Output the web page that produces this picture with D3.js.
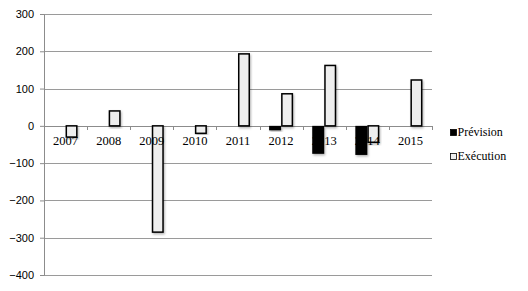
<!DOCTYPE html>
<html>
<head>
<meta charset="utf-8">
<script src="https://cdn.jsdelivr.net/npm/d3@7"></script>
<style>
  body { margin: 0; background: #fff; }
</style>
</head>
<body>
<div id="chart"></div>
<script>
// Data
const years = ["2007", "2008", "2009", "2010", "2011", "2012", "2013", "2014", "2015"];
const prevision = [0, 0, 0, 0, 0, -12, -75, -78, 0];
const execution = [-30, 40, -285, -20, 193, 86, 162, -44, 123];
const yTicks = [300, 200, 100, 0, -100, -200, -300, -400];
const seriesNames = ["Prévision", "Exécution"];

const W = 528, H = 291;
const margin = { top: 14, right: 96, bottom: 16, left: 44 };
const width = W - margin.left - margin.right,
      height = H - margin.top - margin.bottom;

const svg = d3.select("#chart").append("svg")
    .attr("width", W)
    .attr("height", H);

// soft shadow under bars
const defs = svg.append("defs");
const f = defs.append("filter").attr("id", "shadow")
    .attr("x", "-30%").attr("y", "-10%").attr("width", "160%").attr("height", "130%");
f.append("feDropShadow").attr("dx", 1).attr("dy", 1.5).attr("stdDeviation", 1)
    .attr("flood-color", "#000").attr("flood-opacity", 0.3);

const g = svg.append("g").attr("transform", `translate(${margin.left},${margin.top})`);

const x = d3.scaleBand().domain(years).range([0, width]);
const y = d3.scaleLinear().domain([-400, 300]).range([height, 0]);

// gridlines
g.selectAll(".grid")
    .data(yTicks)
    .enter().append("line")
    .attr("x1", 0).attr("x2", width)
    .attr("y1", d => Math.round(y(d)) + 0.5).attr("y2", d => Math.round(y(d)) + 0.5)
    .attr("stroke", d => d === 0 ? "#8c8c8c" : "#9a9a9a")
    .attr("stroke-width", 1);

// y axis
const yAxis = g.append("g")
    .call(d3.axisLeft(y).tickValues(yTicks).tickSize(4).tickPadding(6).tickFormat(d3.format("d")));
yAxis.select(".domain").attr("stroke", "#8c8c8c");
yAxis.selectAll(".tick line").attr("stroke", "#8c8c8c");
yAxis.selectAll("text")
    .style("font-family", "'Liberation Sans', Arial, sans-serif")
    .style("font-size", "11px")
    .attr("fill", "#000");

// category ticks on zero line
g.selectAll(".ctick")
    .data(years.slice(1).concat(["end"]))
    .enter().append("line")
    .attr("x1", (d, i) => Math.round(x.step() * (i + 1)) + 0.5)
    .attr("x2", (d, i) => Math.round(x.step() * (i + 1)) + 0.5)
    .attr("y1", Math.round(y(0))).attr("y2", Math.round(y(0)) + 4)
    .attr("stroke", "#8c8c8c");

const barW = 12;

// Prévision bars
g.selectAll(".prev")
    .data(years.map((d, i) => ({ year: d, v: prevision[i] })).filter(d => d.v !== 0))
    .enter().append("rect")
    .attr("x", d => x(d.year) + x.bandwidth() / 2 - barW)
    .attr("y", d => y(Math.max(0, d.v)))
    .attr("width", barW)
    .attr("height", d => Math.abs(y(d.v) - y(0)))
    .attr("fill", "#000")
    .attr("filter", "url(#shadow)");

// Exécution bars
g.selectAll(".exec")
    .data(years.map((d, i) => ({ year: d, v: execution[i] })))
    .enter().append("rect")
    .attr("x", d => x(d.year) + x.bandwidth() / 2 + 0.75)
    .attr("y", d => y(Math.max(0, d.v)))
    .attr("width", barW - 1.5)
    .attr("height", d => Math.abs(y(d.v) - y(0)))
    .attr("fill", "#eeeeee")
    .attr("stroke", "#000")
    .attr("stroke-width", 1.5)
    .attr("filter", "url(#shadow)");

// category labels sit on top of the bars
g.selectAll(".xlabel")
    .data(years)
    .enter().append("text")
    .attr("x", d => x(d) + x.bandwidth() / 2)
    .attr("y", y(0) + 19)
    .attr("text-anchor", "middle")
    .style("font-family", "'Liberation Serif', 'Times New Roman', serif")
    .style("font-size", "12.5px")
    .text(d => d);

// legend
const legend = svg.append("g").attr("transform", "translate(450,0)");
legend.selectAll("rect")
    .data(seriesNames)
    .enter().append("rect")
    .attr("x", 0.5)
    .attr("y", (d, i) => 129.5 + i * 24)
    .attr("width", 6).attr("height", 6)
    .attr("fill", (d, i) => i === 0 ? "#000" : "#eeeeee")
    .attr("stroke", "#000")
    .attr("stroke-width", 0.8);
legend.selectAll("text")
    .data(seriesNames)
    .enter().append("text")
    .attr("x", 7.5)
    .attr("y", (d, i) => 136 + i * 24)
    .style("font-family", "'Liberation Serif', 'Times New Roman', serif")
    .style("font-size", "12px")
    .text(d => d);
</script>
</body>
</html>
